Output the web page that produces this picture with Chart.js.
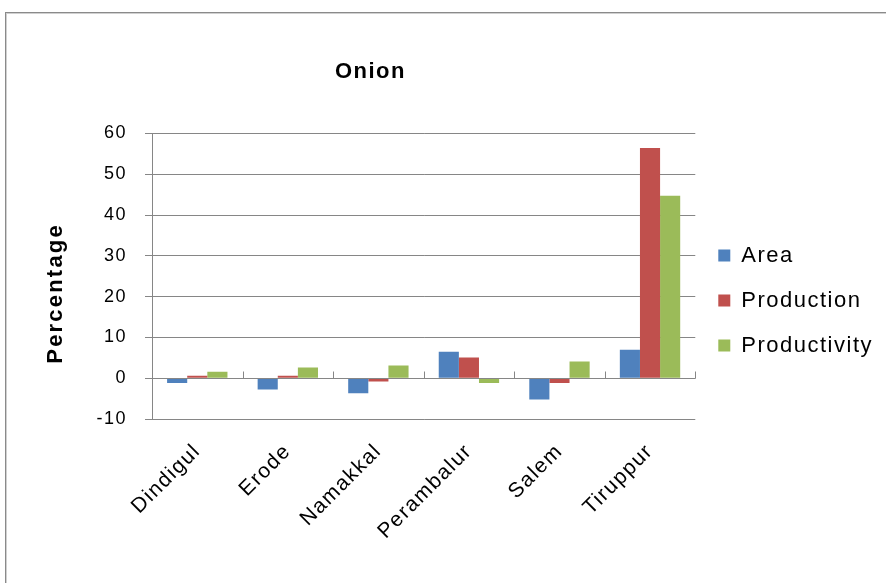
<!DOCTYPE html>
<html>
<head>
<meta charset="utf-8">
<title>Onion</title>
<script src="https://cdn.jsdelivr.net/npm/chart.js@4.4.1/dist/chart.umd.min.js"></script>
<style>
  html, body { margin: 0; padding: 0; background: #ffffff; }
  #wrap { position: relative; width: 886px; height: 583px; overflow: hidden; background: #ffffff; }
  #frame {
    position: absolute; left: 5px; top: 12px; width: 1000px; height: 1000px;
    border-left: 1px solid #8a8a8a; border-top: 1px solid #8a8a8a;
    box-shadow: inset 1px 1px 0 #d0d0d0;
  }
  #chartBox { position: absolute; left: 0; top: 0; width: 886px; height: 583px; }
</style>
</head>
<body>
<div id="wrap">
  <div id="frame"></div>
  <div id="chartBox"><canvas id="onionChart"></canvas></div>
</div>
<script>
// Percentage change by district
const chartTitle = 'Onion';
const yAxisTitle = 'Percentage';
const districts = ['Dindigul', 'Erode', 'Namakkal', 'Perambalur', 'Salem', 'Tiruppur'];
const seriesNames = ['Area', 'Production', 'Productivity'];
const areaChange = [-1.2, -2.8, -3.7, 6.5, -5.2, 7.0];
const productionChange = [0.6, 0.6, -0.8, 5.1, -1.2, 56.4];
const productivityChange = [1.6, 2.6, 3.1, -1.2, 4.1, 44.7];
const yMin = -10;
const yMax = 60;
const yStep = 10;

const FONT = '"Liberation Sans", Arial, sans-serif';
const GRID = '#868686';
const COLORS = ['#4F81BD', '#C0504D', '#9BBB59'];

// slightly wider text spacing for all chart text
const textSpacing = {
  id: 'textSpacing',
  beforeUpdate(chart) { chart.ctx.letterSpacing = '1.5px'; },
  beforeDraw(chart) { chart.ctx.letterSpacing = '1.5px'; }
};

// title sits a little left of the plot centre
const titlePlacement = {
  id: 'titlePlacement',
  afterLayout(chart) {
    const a = chart.chartArea;
    const cx = a.left + (a.right - a.left) * 0.402;
    chart.titleBlock.left = cx - 110;
    chart.titleBlock.right = cx + 110;
  }
};

// horizontal axis drawn through zero, with tick marks between categories
const zeroAxis = {
  id: 'zeroAxis',
  afterDatasetsDraw(chart) {
    const {ctx, chartArea: a, scales: {x, y}} = chart;
    const y0 = Math.round(y.getPixelForValue(0)) + 0.5;
    const half = (x.getPixelForValue(1) - x.getPixelForValue(0)) / 2;
    ctx.save();
    ctx.strokeStyle = GRID;
    ctx.lineWidth = 1;
    ctx.beginPath();
    ctx.moveTo(a.left, y0);
    ctx.lineTo(a.right, y0);
    for (let i = 0; i < districts.length; i++) {
      const bx = Math.round(x.getPixelForValue(i) + half) + 0.5;
      ctx.moveTo(bx, y0);
      ctx.lineTo(bx, y0 - 7);
    }
    ctx.stroke();
    ctx.restore();
  }
};

// rotated value-axis title
const yTitle = {
  id: 'yTitle',
  afterDraw(chart) {
    const {ctx, chartArea: a} = chart;
    ctx.save();
    ctx.letterSpacing = '2.2px';
    ctx.font = 'bold 22px ' + FONT;
    ctx.fillStyle = '#000';
    ctx.translate(a.left - 96, a.top + 160);
    ctx.rotate(-Math.PI / 2);
    ctx.textAlign = 'center';
    ctx.textBaseline = 'middle';
    ctx.fillText(yAxisTitle, 0, 0);
    ctx.restore();
  }
};

const seriesData = [areaChange, productionChange, productivityChange];

new Chart(document.getElementById('onionChart'), {
  type: 'bar',
  data: {
    labels: districts,
    datasets: seriesNames.map((name, i) => ({
      label: name,
      data: seriesData[i],
      backgroundColor: COLORS[i],
      borderWidth: 0,
      categoryPercentage: 2 / 3,
      barPercentage: 1
    }))
  },
  options: {
    responsive: true,
    maintainAspectRatio: false,
    animation: false,
    layout: { padding: { top: 18, left: 0, right: 3, bottom: 0 } },
    plugins: {
      title: {
        display: true,
        text: chartTitle,
        color: '#000',
        font: { family: FONT, size: 22, weight: 'bold' },
        padding: { top: 41, bottom: 48 }
      },
      legend: {
        position: 'right',
        labels: {
          boxWidth: 12,
          boxHeight: 12,
          padding: 23,
          color: '#000',
          font: { family: FONT, size: 22 }
        }
      },
      tooltip: { enabled: false }
    },
    scales: {
      x: {
        grid: { display: false, drawTicks: false },
        border: { display: false },
        ticks: {
          color: '#000',
          font: { family: FONT, size: 21 },
          minRotation: 45,
          maxRotation: 45,
          autoSkip: false,
          padding: 20
        },
        afterFit(scale) { scale.height = 164; }
      },
      y: {
        min: yMin,
        max: yMax,
        ticks: {
          stepSize: yStep,
          color: '#000',
          font: { family: FONT, size: 18 },
          padding: 18
        },
        grid: { color: GRID, lineWidth: 1, drawTicks: true, tickLength: 7, tickColor: GRID },
        border: { display: true, color: GRID, width: 1 },
        afterFit(scale) { scale.width = 152; }
      }
    }
  },
  plugins: [textSpacing, titlePlacement, zeroAxis, yTitle]
});
</script>
</body>
</html>
